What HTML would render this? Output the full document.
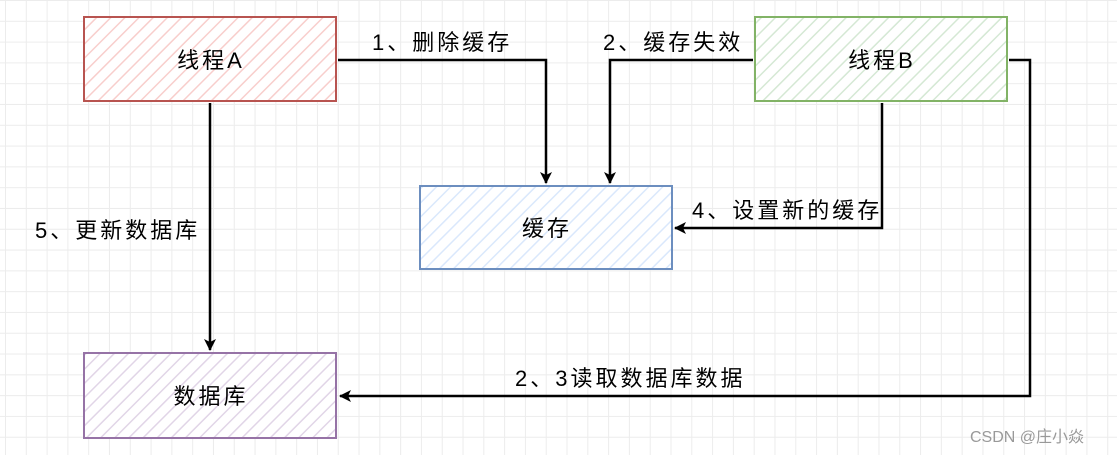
<!DOCTYPE html>
<html><head><meta charset="utf-8"><style>
body{margin:0;width:1117px;height:455px;overflow:hidden;background:#fff;
background-image:linear-gradient(#ececec 1px,transparent 1px),linear-gradient(90deg,#ececec 1px,transparent 1px);
background-size:20.8px 20.8px;background-position:5px 0;}
svg{position:absolute;left:0;top:0}
text{font-family:"Liberation Sans","Noto Sans CJK SC",sans-serif;font-size:22px;letter-spacing:3px;fill:#000}
</style></head><body>
<svg width="1117" height="455">
<defs>
<pattern id="hr" width="10" height="10" patternUnits="userSpaceOnUse" patternTransform="rotate(45)"><rect width="10" height="10" fill="#fff"/><line x1="0" y1="0" x2="0" y2="10" stroke="#f8cecc" stroke-width="3"/></pattern>
<pattern id="hg" width="10" height="10" patternUnits="userSpaceOnUse" patternTransform="rotate(45)"><rect width="10" height="10" fill="#fff"/><line x1="0" y1="0" x2="0" y2="10" stroke="#d5e8d4" stroke-width="3"/></pattern>
<pattern id="hb" width="10" height="10" patternUnits="userSpaceOnUse" patternTransform="rotate(45)"><rect width="10" height="10" fill="#fff"/><line x1="0" y1="0" x2="0" y2="10" stroke="#dae8fc" stroke-width="3"/></pattern>
<pattern id="hp" width="10" height="10" patternUnits="userSpaceOnUse" patternTransform="rotate(45)"><rect width="10" height="10" fill="#fff"/><line x1="0" y1="0" x2="0" y2="10" stroke="#e1d5e7" stroke-width="3"/></pattern>
<marker id="ar" markerWidth="12" markerHeight="12" refX="11" refY="6" orient="auto" markerUnits="userSpaceOnUse"><path d="M0,0 L12,6 L0,12 L3,6 Z" fill="#000"/></marker>
</defs>
<rect x="84" y="17" width="252" height="84" fill="url(#hr)" stroke="#b85450" stroke-width="2"/>
<rect x="755" y="17" width="252" height="84" fill="url(#hg)" stroke="#82b366" stroke-width="2"/>
<rect x="420" y="186" width="252" height="83" fill="url(#hb)" stroke="#6c8ebf" stroke-width="2"/>
<rect x="84" y="353" width="252" height="85" fill="url(#hp)" stroke="#9673a6" stroke-width="2"/>
<text x="211" y="68" text-anchor="middle">线程A</text>
<text x="882" y="68" text-anchor="middle">线程B</text>
<text x="547" y="236" text-anchor="middle">缓存</text>
<text x="211" y="404" text-anchor="middle">数据库</text>
<g fill="none" stroke="#000" stroke-width="2.5">
<path d="M338,60 H546 V183" marker-end="url(#ar)"/>
<path d="M753,60 H610 V183" marker-end="url(#ar)"/>
<path d="M882,103 V228 H675" marker-end="url(#ar)"/>
<path d="M210,103 V350" marker-end="url(#ar)"/>
<path d="M1009,60 H1030 V396 H340" marker-end="url(#ar)"/>
</g>
<text x="372" y="50">1、删除缓存</text>
<text x="603" y="50">2、缓存失效</text>
<text x="692" y="218">4、设置新的缓存</text>
<text x="35" y="238">5、更新数据库</text>
<text x="515" y="386">2、3读取数据库数据</text>
<text x="970" y="442" style="font-size:16px;letter-spacing:0;fill:#999">CSDN @庄小焱</text>
</svg>
</body></html>
